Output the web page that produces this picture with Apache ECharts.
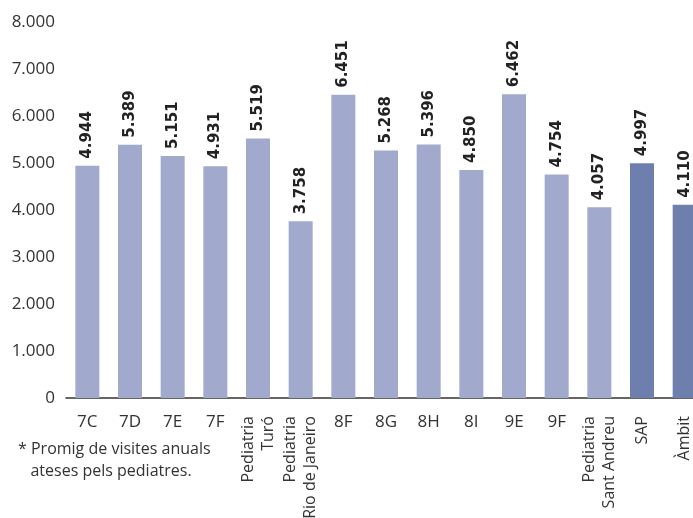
<!DOCTYPE html>
<html><head><meta charset="utf-8">
<script src="https://cdn.jsdelivr.net/npm/echarts@6/dist/echarts.min.js"></script>
<style>html,body{margin:0;padding:0;background:#fff}#c{width:693px;height:518px}</style>
</head><body><div id="c"></div>
<script>
var categories = ['7C','7D','7E','7F','Pediatria\nTuró','Pediatria\nRio de Janeiro','8F','8G','8H','8I','9E','9F','Pediatria\nSant Andreu','SAP','Àmbit'];
var values = [4944,5389,5151,4931,5519,3758,6451,5268,5396,4850,6462,4754,4057,4997,4110];
var rotatedCats = ['Pediatria\nTuró','Pediatria\nRio de Janeiro','Pediatria\nSant Andreu','SAP','Àmbit'];
var yTicks = [0,1000,2000,3000,4000,5000,6000,7000,8000];
var darkCats = ['SAP','Àmbit'];
var footnote = '* Promig de visites anuals\n   ateses pels pediatres.';

function fmt(v){ return String(v).replace(/\B(?=(\d{3})+(?!\d))/g,'.'); }
var FONT = 'Open Sans';
var chart = echarts.init(document.getElementById('c'));
chart.setOption({
  animation:false,
  grid:{left:66, top:22, bottom:120, width:640, containLabel:false, outerBoundsMode:'none'},
  xAxis:[{
    type:'category', data:categories, position:'bottom',
    axisLine:{lineStyle:{color:'#333',width:1.5}}, axisTick:{show:false},
    axisLabel:{interval:0, margin:16, color:'#333', fontSize:17, fontFamily:FONT,
      formatter:function(v){return rotatedCats.indexOf(v)>=0?'':v;}}
  },{
    type:'category', data:categories, position:'bottom',
    axisLine:{show:false}, axisTick:{show:false},
    axisLabel:{interval:0, margin:18, rotate:90, color:'#333', fontSize:16, fontFamily:FONT, lineHeight:20,
      formatter:function(v){return rotatedCats.indexOf(v)>=0?v:'';}}
  }],
  yAxis:{type:'value', min:yTicks[0], max:yTicks[yTicks.length-1], interval:1000,
    axisLine:{show:false}, axisTick:{show:false}, splitLine:{show:false},
    axisLabel:{margin:11, color:'#333', fontSize:17, fontFamily:FONT, formatter:fmt}},
  series:[{
    type:'bar', barWidth:24,
    data:values.map(function(v,i){return {value:v, itemStyle:{color: darkCats.indexOf(categories[i])>=0?'#6e7fae':'#a1aacc'}};}),
    label:{show:true, position:'top', rotate:90, align:'left', verticalAlign:'middle', distance:7,
      fontWeight:'bold', fontSize:15, color:'#222', fontFamily:'DejaVu Sans', formatter:function(p){return fmt(p.value);}},
    labelLayout:{rotate:90}
  }],
  graphic:[{type:'text', left:18, top:438, style:{text:footnote, font:'16px "'+FONT+'"', fill:'#333', lineHeight:22}}]
});
</script></body></html>
